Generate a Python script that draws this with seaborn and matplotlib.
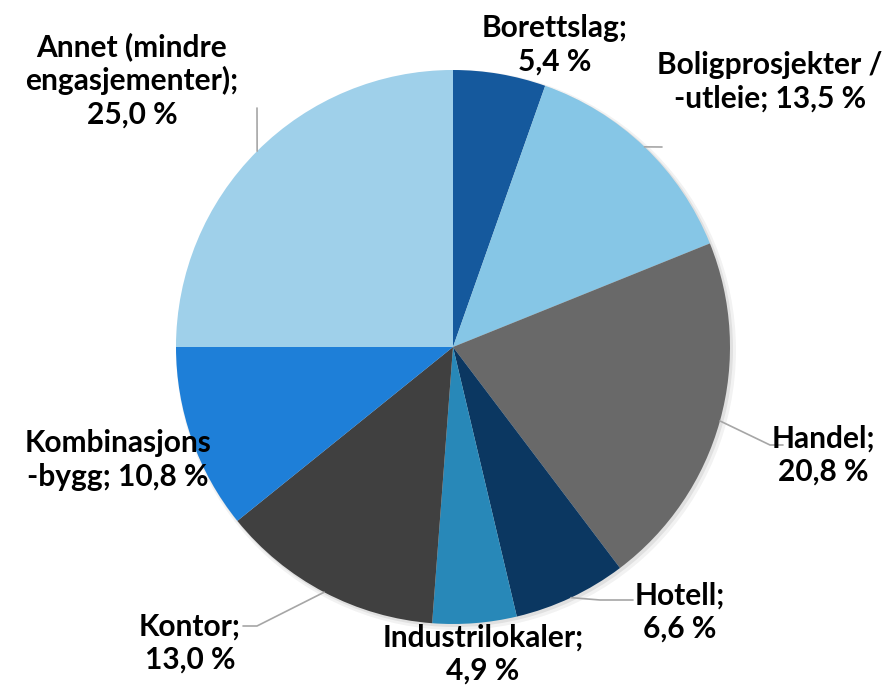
import matplotlib
matplotlib.use("Agg")
import matplotlib.pyplot as plt
import seaborn as sns
from matplotlib.patches import Circle
import numpy as np

W, H = 893, 686

categories = [
    "Borettslag",
    "Boligprosjekter /\n-utleie",
    "Handel",
    "Hotell",
    "Industrilokaler",
    "Kontor",
    "Kombinasjons\n-bygg",
    "Annet (mindre\nengasjementer)",
]
shares = [5.4, 13.5, 20.8, 6.6, 4.9, 13.0, 10.8, 25.0]
colors = ["#15599d", "#86c6e6", "#696969", "#0b3761",
          "#2888b8", "#404040", "#1e7fd8", "#9fd0ea"]

label_texts = [
    "Borettslag;\n5,4 %",
    "Boligprosjekter /\n-utleie; 13,5 %",
    "Handel;\n20,8 %",
    "Hotell;\n6,6 %",
    "Industrilokaler;\n4,9 %",
    "Kontor;\n13,0 %",
    "Kombinasjons\n-bygg; 10,8 %",
    "Annet (mindre\nengasjementer);\n25,0 %",
]
# label centres in image pixels (x, y from top)
label_pos = [(555, 45), (770, 82), (823, 455), (680, 612),
             (483, 654), (190, 643), (118, 460), (132, 80)]
# leader line bends (image pixels) after the point on the rim; None = no line
leader_pts = [None, [(662, 147)], [(770, 445), (783, 445)],
              [(600, 600), (633, 600)], None, [(257, 626), (243, 626)],
              None, [(257, 108)]]

CX, CY, R = 453, 347, 277


def flip(y):
    return H - y


def main() -> None:
    sns.set_theme(style="white")
    plt.rcParams["font.family"] = ["Lato", "DejaVu Sans"]

    fig = plt.figure(figsize=(W / 100, H / 100), dpi=100)
    ax = fig.add_axes([0, 0, 1, 1])

    # soft shadow behind the pie
    for off, alpha, grow in [(3, 0.05, 3), (2, 0.07, 1)]:
        ax.add_patch(Circle((CX + off, flip(CY) - off), R + grow,
                            color="black", alpha=alpha, lw=0, zorder=0))

    ax.pie(shares, colors=colors, startangle=90, counterclock=False,
           center=(CX, flip(CY)), radius=R, frame=True,
           wedgeprops=dict(linewidth=0, zorder=1))
    ax.set_xlim(0, W)
    ax.set_ylim(0, H)
    ax.set_aspect("equal")
    ax.axis("off")

    cum = np.cumsum([0] + shares[:-1])
    for i, txt in enumerate(label_texts):
        mid = (cum[i] + shares[i] / 2) / 100 * 2 * np.pi
        if leader_pts[i] is not None:
            xs = [CX + R * np.sin(mid)] + [p[0] for p in leader_pts[i]]
            ys = [flip(CY - R * np.cos(mid))] + [flip(p[1]) for p in leader_pts[i]]
            ax.plot(xs, ys, color="#a6a6a6", lw=1.2, zorder=2)
        x, y = label_pos[i]
        ax.text(x, flip(y), txt, ha="center", va="center", ma="center",
                fontsize=21.5, fontweight="bold", color="black",
                linespacing=1.22, zorder=3)

    fig.savefig("out.png", dpi=100)
    plt.close(fig)


if __name__ == "__main__":
    main()
